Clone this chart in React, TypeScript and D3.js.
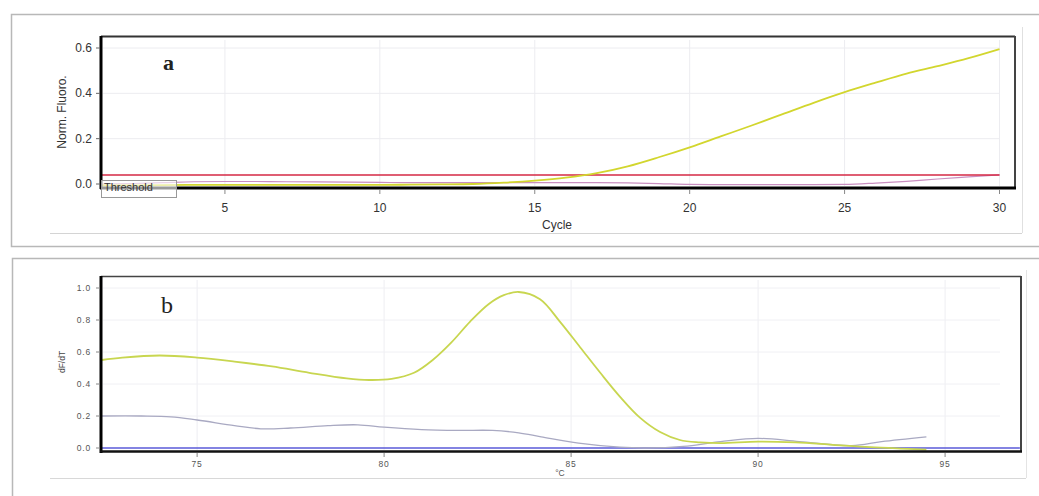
import React from "react";
import * as d3 from "d3";

// ---------- Panel a data (amplification) ----------
const cycles = [1,2,3,4,5,6,7,8,9,10,11,12,13,14,15,16,17,18,19,20,21,22,23,24,25,26,27,28,29,30];
const sampleFluoro = [-0.006,-0.006,-0.005,-0.004,-0.004,-0.004,-0.004,-0.004,-0.004,-0.004,-0.003,-0.002,0.0,0.006,0.015,0.028,0.048,0.078,0.118,0.162,0.21,0.258,0.308,0.358,0.405,0.447,0.487,0.52,0.555,0.595];
const controlFluoro = [0.0,0.002,0.006,0.01,0.011,0.011,0.01,0.009,0.008,0.007,0.006,0.006,0.006,0.006,0.006,0.006,0.006,0.005,0.002,-0.002,-0.003,-0.003,-0.003,-0.003,-0.002,0.004,0.012,0.022,0.031,0.04];
const thresholdValue = 0.04;
const aXTicks = [5,10,15,20,25,30];
const aYTicks = [0.0,0.2,0.4,0.6];

// ---------- Panel b data (melt curve) ----------
const meltTempSample = [72.45,73,74,75,76,77,78,79,79.6,80.2,80.8,81.3,81.8,82.3,82.8,83.2,83.6,84.17,84.7,85.24,85.78,86.31,86.84,87.38,87.91,88.45,89,90,91,92,93,94,94.5];
const meltDfSample = [0.55,0.565,0.578,0.565,0.54,0.51,0.47,0.435,0.425,0.432,0.47,0.55,0.66,0.79,0.9,0.955,0.975,0.93,0.79,0.63,0.47,0.32,0.19,0.1,0.05,0.035,0.03,0.04,0.035,0.02,0.005,-0.005,-0.01];
const meltTempControl = [72.45,73.5,74.3,75,76,76.7,77.5,78.5,79.3,80,81,82,82.9,83.6,84.2,85.2,86.3,87,88,89,90,91.1,92.5,93.3,94.5];
const meltDfControl = [0.2,0.2,0.195,0.175,0.14,0.12,0.125,0.14,0.145,0.13,0.115,0.11,0.11,0.095,0.07,0.03,0.005,0.0,0.01,0.04,0.06,0.04,0.015,0.04,0.07];
const meltTempBlank = [72.45,80,85,90,97];
const meltDfBlank = [0.0,0.0,0.0,0.0,0.0];
const bXTicks = [75,80,85,90,95];
const bYTicks = [0.0,0.2,0.4,0.6,0.8,1.0];

const SANS = "'Liberation Sans', Arial, sans-serif";
const SERIF = "'Liberation Serif', 'DejaVu Serif', serif";

export default function App() {
  // Panel a scales
  const ax = d3.scaleLinear().domain([1, 30.5]).range([101, 1015]);
  const ay = d3.scaleLinear().domain([0, 0.6]).range([184, 48]);
  const aLine = d3.line<[number, number]>().x(d => ax(d[0])).y(d => ay(d[1])).curve(d3.curveMonotoneX);
  const sampleA = aLine(cycles.map((c, i) => [c, sampleFluoro[i]]) as [number, number][]) || "";
  const controlA = aLine(cycles.map((c, i) => [c, controlFluoro[i]]) as [number, number][]) || "";

  // Panel b scales
  const bx = d3.scaleLinear().domain([72.43, 97.03]).range([101, 1021]);
  const by = d3.scaleLinear().domain([0, 1.0]).range([448, 288]);
  const bLine = d3.line<[number, number]>().x(d => bx(d[0])).y(d => by(d[1])).curve(d3.curveCatmullRom.alpha(0.5));
  const sampleB = bLine(meltTempSample.map((t, i) => [t, meltDfSample[i]]) as [number, number][]) || "";
  const controlB = bLine(meltTempControl.map((t, i) => [t, meltDfControl[i]]) as [number, number][]) || "";
  const blankB = d3.line<[number, number]>().x(d => bx(d[0])).y(d => by(d[1]))(meltTempBlank.map((t, i) => [t, meltDfBlank[i]]) as [number, number][]) || "";

  return (
    <svg width={1039} height={496} style={{ position: "absolute", left: 0, top: 0, background: "#fff" }}>
      {/* ---------- frames ---------- */}
      <rect x={11.5} y={14.5} width={1040} height={232} fill="none" stroke="#b8b8b8" strokeWidth={1.5} />
      <line x1={1022.5} x2={1022.5} y1={27} y2={233} stroke="#e0e0e0" />
      <line x1={50} x2={1022} y1={233.5} y2={233.5} stroke="#d4d4d4" />
      <rect x={12.5} y={258.5} width={1040} height={260} fill="none" stroke="#b8b8b8" strokeWidth={1.5} />
      <line x1={1026.5} x2={1026.5} y1={270} y2={478} stroke="#e4e4e4" />
      <line x1={50} x2={1026} y1={478.5} y2={478.5} stroke="#d8d8d8" />

      {/* ---------- Panel a ---------- */}
      <g>
        {aXTicks.map(t => (
          <line key={"agx" + t} x1={ax(t)} x2={ax(t)} y1={40} y2={186} stroke="#ececf0" />
        ))}
        {aYTicks.filter(t => t > 0).map(t => (
          <line key={"agy" + t} x1={103} x2={1000} y1={ay(t)} y2={ay(t)} stroke="#ececf0" />
        ))}
        <path d={controlA} fill="none" stroke="#c98fc0" strokeWidth={1.2} />
        <line x1={ax(1)} x2={ax(30)} y1={ay(thresholdValue)} y2={ay(thresholdValue)} stroke="#d42845" strokeWidth={1.6} />
        <path d={sampleA} fill="none" stroke="#d2d62e" strokeWidth={1.8} />
        {/* plot border */}
        <line x1={101} x2={1015} y1={36.5} y2={36.5} stroke="#333" strokeWidth={2} />
        <line x1={1015} x2={1015} y1={36} y2={188} stroke="#444" strokeWidth={2} />
        <line x1={101} x2={101} y1={36} y2={189} stroke="#000" strokeWidth={3} />
        <line x1={100} x2={1016} y1={188} y2={188} stroke="#000" strokeWidth={3} />
        {/* ticks */}
        {aYTicks.map(t => (
          <g key={"ayt" + t}>
            <line x1={96} x2={100} y1={ay(t)} y2={ay(t)} stroke="#666" />
            <text x={92} y={ay(t) + 4} textAnchor="end" fontFamily={SANS} fontSize={12} fill="#333">{t.toFixed(1)}</text>
          </g>
        ))}
        {aXTicks.map(t => (
          <g key={"axt" + t}>
            <line x1={ax(t)} x2={ax(t)} y1={190} y2={194} stroke="#888" />
            <text x={ax(t)} y={212} textAnchor="middle" fontFamily={SANS} fontSize={12} fill="#333">{t}</text>
          </g>
        ))}
        {/* threshold label */}
        <rect x={101.5} y={180.5} width={75} height={17} fill="#fff" fillOpacity={0.6} stroke="#999" />
        <text x={104} y={191} fontFamily={SANS} fontSize={11} fill="#333">Threshold</text>
        <text x={557} y={229} textAnchor="middle" fontFamily={SANS} fontSize={12} fill="#333">Cycle</text>
        <text transform="translate(66,112) rotate(-90)" textAnchor="middle" fontFamily={SANS} fontSize={12} fill="#333">Norm. Fluoro.</text>
        <text x={163} y={70} fontFamily={SERIF} fontWeight="bold" fontSize={22} fill="#222">a</text>
      </g>

      {/* ---------- Panel b ---------- */}
      <g>
        {bXTicks.map(t => (
          <line key={"bgx" + t} x1={bx(t)} x2={bx(t)} y1={280} y2={450} stroke="#eeeef2" />
        ))}
        {bYTicks.filter(t => t > 0).map(t => (
          <line key={"bgy" + t} x1={103} x2={1000} y1={by(t)} y2={by(t)} stroke="#f0f0f4" />
        ))}
        <path d={blankB} fill="none" stroke="#5a5ad8" strokeWidth={1.4} />
        <path d={controlB} fill="none" stroke="#a9a9c2" strokeWidth={1.3} />
        <path d={sampleB} fill="none" stroke="#c8d650" strokeWidth={1.8} />
        {/* plot border */}
        <line x1={101} x2={1021} y1={276.5} y2={276.5} stroke="#444" strokeWidth={1.6} />
        <line x1={1021} x2={1021} y1={276} y2={452} stroke="#444" strokeWidth={2} />
        <line x1={101} x2={101} y1={276} y2={453} stroke="#000" strokeWidth={3} />
        <line x1={100} x2={1022} y1={451.5} y2={451.5} stroke="#111" strokeWidth={2.5} />
        {bYTicks.map(t => (
          <g key={"byt" + t}>
            <line x1={96} x2={100} y1={by(t)} y2={by(t)} stroke="#888" />
            <text x={91} y={by(t) + 3} textAnchor="end" fontFamily={SANS} fontSize={8.5} fill="#555" letterSpacing={0.8}>{t.toFixed(1)}</text>
          </g>
        ))}
        {bXTicks.map(t => (
          <g key={"bxt" + t}>
            <line x1={bx(t)} x2={bx(t)} y1={453} y2={457} stroke="#888" />
            <text x={bx(t)} y={467} textAnchor="middle" fontFamily={SANS} fontSize={8.5} fill="#555" letterSpacing={0.8}>{t}</text>
          </g>
        ))}
        <text x={560} y={476} textAnchor="middle" fontFamily={SANS} fontSize={8.5} fill="#555">°C</text>
        <text transform="translate(65,362) rotate(-90)" textAnchor="middle" fontFamily={SANS} fontSize={8.5} fill="#444">dF/dT</text>
        <text x={161} y={313} fontFamily={SERIF} fontSize={24} fill="#222">b</text>
      </g>
    </svg>
  );
}
